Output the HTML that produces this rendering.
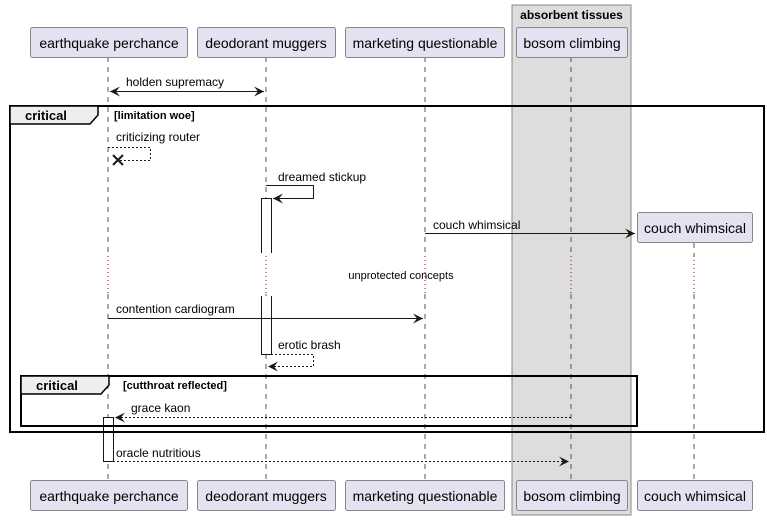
<!DOCTYPE html>
<html><head><meta charset="utf-8"><style>body{margin:0;background:#fff}svg{display:block}text{font-family:"Liberation Sans",sans-serif;font-size:12px;fill:#000}</style></head><body>
<svg width="767" height="520" viewBox="0 0 767 520" xmlns="http://www.w3.org/2000/svg">
<defs>
<marker id="a" viewBox="0 0 10 10" refX="10" refY="5" markerWidth="10" markerHeight="10" orient="auto-start-reverse" markerUnits="userSpaceOnUse"><path d="M0,0 L10,5 L0,10 L4,5 Z" fill="#181818"/></marker>
</defs>
<rect x="512" y="5" width="119" height="510" fill="#ddd" stroke="#888" stroke-width="1"/>
<text x="571.5" y="19" text-anchor="middle" font-weight="bold" style="font-size:12px">absorbent tissues</text>
<g stroke="#555" stroke-dasharray="5,5" stroke-width="1">
<line x1="108" y1="57" x2="108" y2="256"/><line x1="266" y1="57" x2="266" y2="256"/><line x1="425" y1="57" x2="425" y2="256"/><line x1="571" y1="57" x2="571" y2="256"/><line x1="694" y1="243" x2="694" y2="256"/>
<line x1="108" y1="294" x2="108" y2="480"/><line x1="266" y1="294" x2="266" y2="480"/><line x1="425" y1="294" x2="425" y2="480"/><line x1="571" y1="294" x2="571" y2="480"/><line x1="694" y1="294" x2="694" y2="480"/>
</g>
<g stroke="#a80036" stroke-dasharray="1,3"><line x1="108" y1="256" x2="108" y2="294"/><line x1="266" y1="256" x2="266" y2="294"/><line x1="425" y1="256" x2="425" y2="294"/><line x1="571" y1="256" x2="571" y2="294"/><line x1="694" y1="256" x2="694" y2="294"/></g>
<text x="401" y="279" text-anchor="middle" style="font-size:11px">unprotected concepts</text>
<g fill="#e2e2f0" stroke="#888" stroke-width="1">
<rect x="30.5" y="27.5" width="157" height="30" rx="2"/><rect x="197.5" y="27.5" width="138" height="30" rx="2"/><rect x="345.5" y="27.5" width="159" height="30" rx="2"/><rect x="516.5" y="27.5" width="111" height="30" rx="2"/>
<rect x="30.5" y="480.5" width="157" height="30" rx="2"/><rect x="197.5" y="480.5" width="138" height="30" rx="2"/><rect x="345.5" y="480.5" width="159" height="30" rx="2"/><rect x="516.5" y="480.5" width="111" height="30" rx="2"/><rect x="637.5" y="480.5" width="115" height="30" rx="2"/>
<rect x="637.5" y="212.5" width="115" height="30" rx="2"/>
</g>
<g text-anchor="middle">
<text x="109" y="48" style="font-size:14px">earthquake perchance</text><text x="266" y="48" style="font-size:14px">deodorant muggers</text><text x="425" y="48" style="font-size:14px">marketing questionable</text><text x="572" y="48" style="font-size:14px">bosom climbing</text>
<text x="109" y="501" style="font-size:14px">earthquake perchance</text><text x="266" y="501" style="font-size:14px">deodorant muggers</text><text x="425" y="501" style="font-size:14px">marketing questionable</text><text x="572" y="501" style="font-size:14px">bosom climbing</text><text x="695" y="501" style="font-size:14px">couch whimsical</text>
<text x="695" y="233" style="font-size:14px">couch whimsical</text>
</g>
<g fill="#fff" stroke="#181818"><path d="M261.5,253 V198.5 H271.5 V253"/><path d="M261.5,296 V354.5 H271.5 V296"/><rect x="103.5" y="417.5" width="10" height="44"/></g>
<g stroke="#181818" stroke-width="1" fill="none">
<line x1="110" y1="91.5" x2="264" y2="91.5" marker-start="url(#a)" marker-end="url(#a)"/>
<path d="M108,147.5 H150.5 V160.5 H118" stroke-dasharray="2,2"/>
<path d="M266,185.5 H313.5 V198.5 H273" marker-end="url(#a)"/>
<line x1="425" y1="233.5" x2="635" y2="233.5" marker-end="url(#a)"/>
<line x1="108" y1="318.5" x2="423" y2="318.5" marker-end="url(#a)"/>
<path d="M271,354.5 H313.5 V366.5 H268" stroke-dasharray="2,2" marker-end="url(#a)"/>
<line x1="571" y1="417.5" x2="115" y2="417.5" stroke-dasharray="2,2" marker-end="url(#a)"/>
<line x1="113" y1="461.5" x2="569" y2="461.5" stroke-dasharray="2,2" marker-end="url(#a)"/>
</g>
<path d="M113,155 L123,165 M123,155 L113,165" stroke="#181818" stroke-width="2"/>
<text x="126" y="86">holden supremacy</text>
<text x="116" y="141">criticizing router</text>
<text x="278" y="181">dreamed stickup</text>
<text x="433" y="229">couch whimsical</text>
<text x="116" y="313">contention cardiogram</text>
<text x="278" y="349">erotic brash</text>
<text x="131" y="412">grace kaon</text>
<text x="116" y="457">oracle nutritious</text>
<rect x="10" y="106" width="754" height="326" fill="none" stroke="#000" stroke-width="2"/>
<path d="M10,106 H98 V115 L90,124 H10 Z" fill="#eee" stroke="#000" stroke-width="1.5"/>
<text x="25" y="120" font-weight="bold" style="font-size:13px">critical</text>
<text x="114" y="119" font-weight="bold" style="font-size:11px">[limitation woe]</text>
<rect x="21" y="376" width="616" height="50" fill="none" stroke="#000" stroke-width="2"/>
<path d="M21,376 H109 V385 L101,394 H21 Z" fill="#eee" stroke="#000" stroke-width="1.5"/>
<text x="36" y="390" font-weight="bold" style="font-size:13px">critical</text>
<text x="123" y="389" font-weight="bold" style="font-size:11px">[cutthroat reflected]</text>
</svg>
</body></html>
